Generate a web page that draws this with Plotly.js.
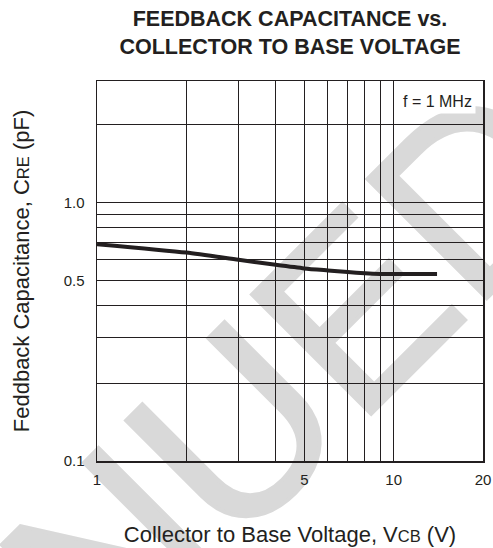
<!DOCTYPE html>
<html>
<head>
<meta charset="utf-8">
<script src="https://cdn.plot.ly/plotly-3.0.1.min.js"></script>
<style>
  html, body { margin: 0; padding: 0; background: #ffffff; }
  #wrap { position: relative; width: 493px; height: 548px; overflow: hidden; }
  #wm { position: absolute; left: 0; top: 0; z-index: 0; }
  #chart { position: absolute; left: 0; top: 0; width: 493px; height: 548px; z-index: 1; }
</style>
</head>
<body>
<div id="wrap">
  <!-- light grey status stamp, sits underneath the grid -->
  <svg id="wm" width="493" height="548">
    <g transform="rotate(-45 357 428)" fill="#d9d9d9" stroke="#d9d9d9" stroke-width="4"
       font-family="Liberation Sans, Arial, sans-serif" font-size="245">
      <text x="357" y="428" text-anchor="end">DISCONTINU</text>
      <text x="357" y="428" text-anchor="start">ED</text>
    </g>
  </svg>
  <div id="chart"></div>
</div>
<script>
// Collector-to-base voltage (V) and feedback capacitance (pF), f = 1 MHz
const vcb = [1, 2, 3, 4, 5, 6, 7, 8, 9, 10, 14];
const cre = [0.69, 0.64, 0.60, 0.574, 0.556, 0.546, 0.538, 0.532, 0.529, 0.529, 0.529];

// Axis labels and grid positions
const xTickVals = [1, 5, 10, 20];
const xTickText = ['1', '5', '10', '20'];
const xGridVals = [2, 3, 4, 6, 7, 8, 9];
const yTickVals = [0.1, 0.5, 1];
const yTickText = ['0.1', '0.5', '1.0'];
const yGridVals = [0.2, 0.3, 0.4, 0.6, 0.7, 0.8, 0.9, 2];

const ink = '#231f20';
const font = 'Liberation Sans, Arial, Helvetica, sans-serif';

const trace = {
  x: vcb,
  y: cre,
  type: 'scatter',
  mode: 'lines',
  line: { color: ink, width: 4, shape: 'spline', smoothing: 0.6 },
  hoverinfo: 'skip',
  showlegend: false
};

const axisCommon = {
  type: 'log',
  showline: true,
  mirror: true,
  linecolor: ink,
  linewidth: 1.5,
  showgrid: true,
  gridcolor: ink,
  gridwidth: 1,
  zeroline: false,
  ticks: '',
  tickmode: 'array',
  tickfont: { family: font, size: 15, color: ink },
  fixedrange: true
};

const layout = {
  width: 493,
  height: 548,
  margin: { l: 97, r: 10, t: 81, b: 87 },
  paper_bgcolor: 'rgba(0,0,0,0)',
  plot_bgcolor: 'rgba(0,0,0,0)',
  title: {
    text: '<b>FEEDBACK CAPACITANCE vs.</b><br><b>COLLECTOR TO BASE VOLTAGE</b>',
    font: { family: font, size: 21.5, color: ink },
    xref: 'paper', x: 0.5, xanchor: 'center',
    yref: 'container', y: 0.952, yanchor: 'top'
  },
  xaxis: Object.assign({}, axisCommon, {
    range: [0, Math.log10(20)],
    tickvals: xTickVals,
    ticktext: xTickText,
    ticklabelstandoff: 4,
    minor: { tickmode: 'array', tickvals: xGridVals, showgrid: true, gridcolor: ink, gridwidth: 1, ticks: '' },
    title: {
      text: 'Collector to Base Voltage, V<span style="font-size:16.5px">CB</span> (V)',
      font: { family: font, size: 22, color: ink },
      standoff: 40
    }
  }),
  yaxis: Object.assign({}, axisCommon, {
    range: [-1, 0.47],
    tickvals: yTickVals,
    ticktext: yTickText,
    ticklabelstandoff: 8,
    minor: { tickmode: 'array', tickvals: yGridVals, showgrid: true, gridcolor: ink, gridwidth: 1, ticks: '' },
    title: {
      text: 'Feddback Capacitance, C<span style="font-size:16.5px">RE</span> (pF)',
      font: { family: font, size: 22, color: ink },
      standoff: 28
    }
  }),
  annotations: [{
    text: 'f = 1 MHz',
    xref: 'paper', yref: 'paper',
    x: 0.882, y: 0.947,
    xanchor: 'center', yanchor: 'middle',
    showarrow: false,
    bgcolor: '#ffffff',
    borderpad: 3,
    font: { family: font, size: 16, color: ink }
  }]
};

Plotly.newPlot('chart', [trace], layout, { displayModeBar: false, staticPlot: true });
</script>
</body>
</html>
